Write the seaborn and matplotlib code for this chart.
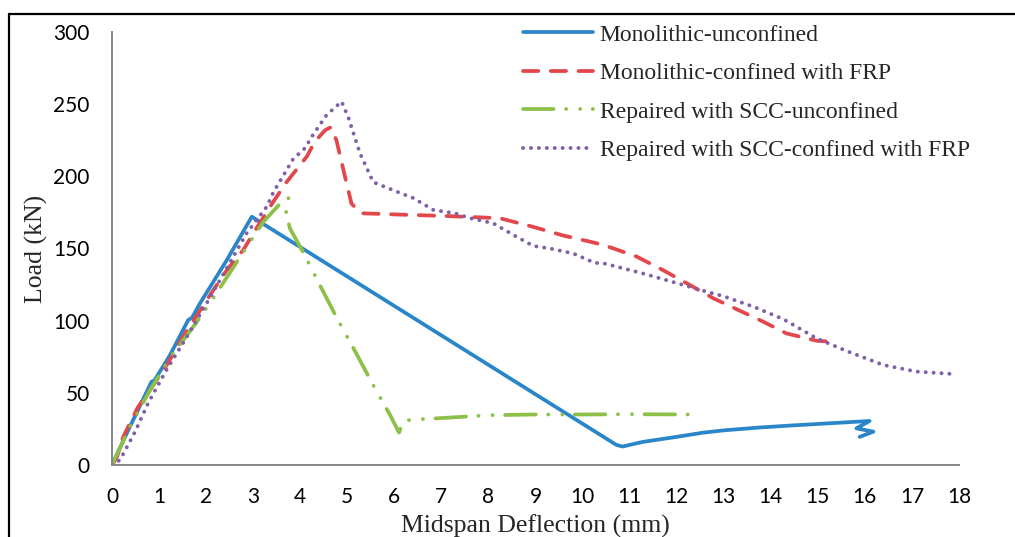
import matplotlib
matplotlib.use("Agg")
import matplotlib.pyplot as plt
from matplotlib.lines import Line2D
import seaborn as sns
import pandas as pd

# ---- data ----
mono_unconf_x = [0, 0.38, 0.84, 0.9, 1.23, 1.62, 1.7, 1.87, 2.44, 2.97,
                 10.72, 10.85, 11.28, 12.0, 12.56, 13.0, 13.77, 14.5, 15.3, 16.1,
                 15.82, 16.18, 15.89]
mono_unconf_y = [0, 26.5, 57.7, 58.5, 76, 100.5, 102, 112, 142, 172,
                 13.9, 12.8, 16, 19.5, 22.4, 24, 26, 27.5, 29, 30.5,
                 25.4, 23.1, 19.5]

mono_conf_x = [0, 0.1, 0.24, 0.55, 0.81, 1.19, 1.51, 1.83, 2.15, 2.44, 2.79,
               3.07, 3.42, 3.71, 4.14, 4.31, 4.53, 4.65, 4.77, 4.95, 5.09, 5.3,
               6.12, 7.11, 8.24, 8.95, 9.59, 10.16, 10.44, 11.15, 11.71, 12.21,
               12.78, 13.27, 13.84, 14.33, 14.97, 15.26]
mono_conf_y = [0, 5, 19.6, 40, 52, 70.6, 89, 105, 121, 135, 149,
               164, 182, 196, 213.7, 224, 232, 234, 225, 200, 181, 174.4,
               173.5, 172.5, 171, 165, 159, 154.7, 152.5, 144.4, 135, 126,
               115.5, 108, 99.3, 91.2, 86.1, 85.5]

scc_unconf_x = [0, 0.38, 0.81, 1.23, 1.8, 2.22, 2.86, 3.22, 3.57, 3.75, 3.7,
                3.78, 4.07, 4.38, 4.8, 5.13, 5.59, 5.91, 6.1, 6.15, 6.3, 6.47,
                7.0, 7.5, 8.0, 9.0, 10.0, 11.0, 12.28]
scc_unconf_y = [0, 26.5, 52, 74, 99, 119, 151, 168.6, 181, 185, 175,
                164, 147, 127, 100.5, 81, 53, 34.6, 22.5, 27, 31, 31.6,
                32.5, 33.5, 34.5, 35, 35, 35.2, 35]

scc_conf_x = [0, 0.17, 0.49, 0.77, 1.16, 1.55, 2.01, 2.44, 2.86, 3.29, 3.43,
              3.85, 4.1, 4.27, 4.56, 4.88, 5.02, 5.27, 5.55, 6.05, 6.4, 6.83,
              7.29, 7.61, 8.1, 8.53, 8.95, 9.31, 9.8, 10.26, 10.44, 11.25,
              12.07, 12.71, 12.99, 13.63, 14.27, 14.97, 15.61, 16.39, 17.1, 17.9]
scc_conf_y = [0, 3.5, 23, 43, 66, 86.6, 112, 136.5, 160.5, 179, 189,
              212, 219.5, 228.7, 242.5, 251.8, 241, 216, 196, 189.4, 185, 176.7,
              174.4, 171, 167.5, 159.4, 151.8, 150, 146.6, 140, 139.8, 133,
              125.4, 119.4, 117, 109.7, 101, 87.8, 79, 69.3, 64.7, 63]

labels = ["Monolithic-unconfined", "Monolithic-confined with FRP",
          "Repaired with SCC-unconfined", "Repaired with SCC-confined with FRP"]
x_ticks = list(range(0, 19))
y_ticks = [0, 50, 100, 150, 200, 250, 300]

# ---- style ----
sns.set_style("white")
plt.rcParams["lines.scale_dashes"] = False
plt.rcParams["font.family"] = ["Liberation Serif", "DejaVu Serif"]

fig = plt.figure(figsize=(10.15, 5.37), dpi=100)
ax = fig.add_axes([112 / 1015, 1 - 465 / 537, (959 - 112) / 1015, (465 - 32) / 537])

series = [
    (mono_unconf_x, mono_unconf_y, "#2A86C8", None, 2.7),
    (mono_conf_x, mono_conf_y, "#E2474B", (0, (11, 9)), 2.7),
    (scc_unconf_x, scc_unconf_y, "#8DC049", (0, (22, 9, 0.1, 10, 0.1, 9)), 2.7),
    (scc_conf_x, scc_conf_y, "#8060A8", (0, (0.1, 5.6)), 2.8),
]

for (xs, ys, col, dash, lw), lab in zip(series, labels):
    df = pd.DataFrame({"x": xs, "y": ys})
    sns.lineplot(data=df, x="x", y="y", sort=False, estimator=None, ax=ax,
                 color=col, linewidth=lw, label=lab,
                 linestyle=(dash if dash is not None else "-"),
                 dash_capstyle="round", solid_capstyle="round",
                 solid_joinstyle="round")

ax.set_xlim(0, 18)
ax.set_ylim(0, 300)
ax.set_xticks(x_ticks)
ax.set_yticks(y_ticks)
ax.set_xticklabels([str(t) for t in x_ticks])
ax.set_yticklabels([str(t) for t in y_ticks])

for s in ["top", "right"]:
    ax.spines[s].set_visible(False)
for s in ["left", "bottom"]:
    ax.spines[s].set_color("#868686")
    ax.spines[s].set_linewidth(1.4)

ax.tick_params(axis="both", direction="out", length=5, width=1.3,
               color="#868686", labelcolor="black", labelsize=15)
ax.tick_params(axis="x", pad=11)
ax.tick_params(axis="y", pad=11)
for lbl in ax.get_xticklabels() + ax.get_yticklabels():
    lbl.set_fontfamily(["Lato", "DejaVu Sans"])

ax.set_xlabel("Midspan Deflection (mm)", fontsize=18.5, labelpad=5)
ax.set_ylabel("Load (kN)", fontsize=18.5, labelpad=4)

leg = ax.legend(loc="upper left", bbox_to_anchor=(523 / 1015, 1 - 24 / 537),
                bbox_transform=fig.transFigure, frameon=False, fontsize=17,
                handlelength=2.95, handletextpad=0.3, labelspacing=0.72,
                borderpad=0, borderaxespad=0)

# outer chart frame (top and left edges visible in the reference)
fig.add_artist(Line2D([8.5 / 1015, 1.0], [1 - 14 / 537, 1 - 14 / 537],
                      transform=fig.transFigure, color="black", linewidth=1.6))
fig.add_artist(Line2D([8.5 / 1015, 8.5 / 1015], [0.0, 1 - 14 / 537],
                      transform=fig.transFigure, color="black", linewidth=1.6))

fig.savefig("out.png", dpi=100)
